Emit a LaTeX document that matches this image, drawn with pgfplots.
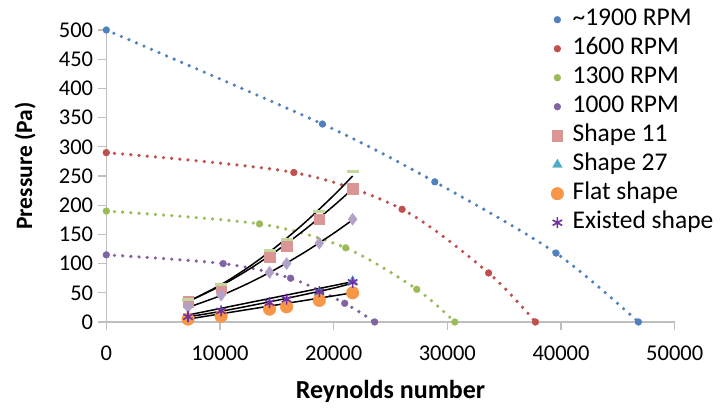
\documentclass[border=0pt]{standalone}
\usepackage{fontspec}
\setmainfont{Carlito}
\usepackage{pgfplots}
\pgfplotsset{compat=1.18}
\definecolor{cblue}{HTML}{4F81BD}
\definecolor{cred}{HTML}{C0504D}
\definecolor{cgreen}{HTML}{9BBB59}
\definecolor{cpurple}{HTML}{8064A2}
\definecolor{cteal}{HTML}{4BACC6}
\definecolor{corange}{HTML}{F79646}
\definecolor{cpink}{HTML}{D99694}
\definecolor{clgreen}{HTML}{C3D69B}
\definecolor{clpurple}{HTML}{B3A2C7}
\definecolor{cdpurple}{HTML}{7030A0}
\definecolor{axisgray}{HTML}{BFBFBF}
\begin{document}
\begin{tikzpicture}[x=1pt,y=1pt]
\path[use as bounding box] (0,0) rectangle (721,408);
\begin{axis}[
  at={(106.3pt,86pt)}, anchor=south west,
  scale only axis, width=568.4pt, height=292pt,
  xmin=0, xmax=50000, ymin=0, ymax=500,
  clip=false,
  axis x line*=bottom, axis y line*=left,
  axis line style={draw=axisgray, line width=1.3pt},
  xtick={0,10000,20000,30000,40000,50000},
  ytick={0,50,...,500},
  scaled x ticks=false,
  /pgf/number format/1000 sep={},
  /pgf/number format/assume math mode=true,
  tick align=outside, major tick length=8pt,
  tick style={draw=axisgray, line width=1.3pt},
  ticklabel style={font=\fontsize{22.5}{26}\selectfont},
  yticklabel style={anchor=east, inner sep=0pt, xshift=-5pt},
  xticklabel style={anchor=north, inner sep=0pt, yshift=-16pt},
  xlabel={\textbf{Reynolds number}},
  ylabel={\textbf{Pressure (Pa)}},
  xlabel style={font=\fontsize{26}{30}\selectfont, at={(axis description cs:0.5,0)}, anchor=base, yshift=-76pt},
  ylabel style={font=\fontsize{23.5}{28}\selectfont, at={(axis description cs:0,0.534)}, anchor=center, rotate=0, yshift=81pt},
  legend style={draw=none, fill=none, at={(axis description cs:0.7806,1.077)}, anchor=north west,
    inner sep=0pt, row sep=5pt, column sep=8pt,
    font=\fontsize{25.5}{29}\selectfont,
    nodes={inner sep=0pt, text height=18pt, text depth=6pt}},
  legend cell align=left,
  legend image code/.code={\path (-7pt,0pt) (7pt,0pt); \draw[#1] plot coordinates {(0pt,0pt)};},
  rpmline/.style={line width=3.6pt, dash pattern=on 0pt off 8.2pt, line cap=round, smooth, no marks, forget plot},
  trend/.style={black, line width=1.5pt, no marks, forget plot},
]
% RPM dotted curves
\addplot[rpmline, cblue] coordinates {(0,500) (19010,339) (28900,240) (39560,118) (46810,0)};
\addplot[rpmline, cred] coordinates {(0,290) (16500,256) (26020,193) (33630,84) (37750,0)};
\addplot[rpmline, cgreen] coordinates {(0,190) (13480,168) (21060,127) (27310,56) (30660,0)};
\addplot[rpmline, cpurple] coordinates {(0,115) (10280,100) (16210,75) (20970,32) (23610,0)};
% RPM markers
\addplot[only marks, mark=*, mark size=3.4pt, cblue] coordinates {(0,500) (19010,339) (28900,240) (39560,118) (46810,0)};
\addlegendentry{\textasciitilde 1900 RPM}
\addplot[only marks, mark=*, mark size=3.4pt, cred] coordinates {(0,290) (16500,256) (26020,193) (33630,84) (37750,0)};
\addlegendentry{1600 RPM}
\addplot[only marks, mark=*, mark size=3.4pt, cgreen] coordinates {(0,190) (13480,168) (21060,127) (27310,56) (30660,0)};
\addlegendentry{1300 RPM}
\addplot[only marks, mark=*, mark size=3.4pt, cpurple] coordinates {(0,115) (10280,100) (16210,75) (20970,32) (23610,0)};
\addlegendentry{1000 RPM}
% shape series
\addplot[only marks, mark=square*, mark size=5.3pt, cpink] coordinates {(7190,35) (10100,58) (14360,111) (15860,131) (18740,176) (21670,228)};
\addlegendentry{Shape 11}
\addplot[only marks, mark=-, mark size=6pt, clgreen, mark options={line width=3pt}, forget plot] coordinates {(7190,38) (10100,64) (14360,122) (15860,142) (18740,190) (21670,258)};
\addplot[only marks, mark=diamond*, mark size=6pt, clpurple, forget plot] coordinates {(7190,26) (10100,46) (14360,85) (15860,100) (18740,135) (21670,176)};
\addplot[only marks, mark=triangle*, mark size=5.5pt, cteal] coordinates {(7190,8) (10100,17) (14360,30) (15860,36) (18740,50) (21670,70)};
\addlegendentry{Shape 27}
\addplot[only marks, mark=*, mark size=6.3pt, corange] coordinates {(7190,5) (10100,10) (14360,22) (15860,26) (18740,37) (21670,50)};
\addlegendentry{Flat shape}
\addplot[only marks, mark=asterisk, mark size=5.5pt, cdpurple, mark options={line width=1.6pt}] coordinates {(7190,9) (10100,19) (14360,33) (15860,39) (18740,52) (21670,68)};
\addlegendentry{Existed shape}
% trendlines
\addplot[trend, smooth] coordinates {(7190,35) (10000,63.0) (12500,93.8) (15000,129.8) (17500,170.8) (20000,216.7) (21670,250)};
\addplot[trend, smooth] coordinates {(7190,35) (10000,61.3) (12500,89.6) (15000,122.1) (17500,158.7) (20000,199.0) (21670,228)};
\addplot[trend, smooth] coordinates {(7190,25) (10000,44.7) (12500,66.3) (15000,91.5) (17500,120.1) (20000,151.9) (21670,175)};
\addplot[trend] coordinates {(7190,12) (21670,69)};
\addplot[trend, smooth] coordinates {(7190,9) (10000,18) (15000,37) (20000,58) (21670,67)};
\addplot[trend] coordinates {(7190,5) (21670,50)};
\end{axis}
\end{tikzpicture}
\end{document}
